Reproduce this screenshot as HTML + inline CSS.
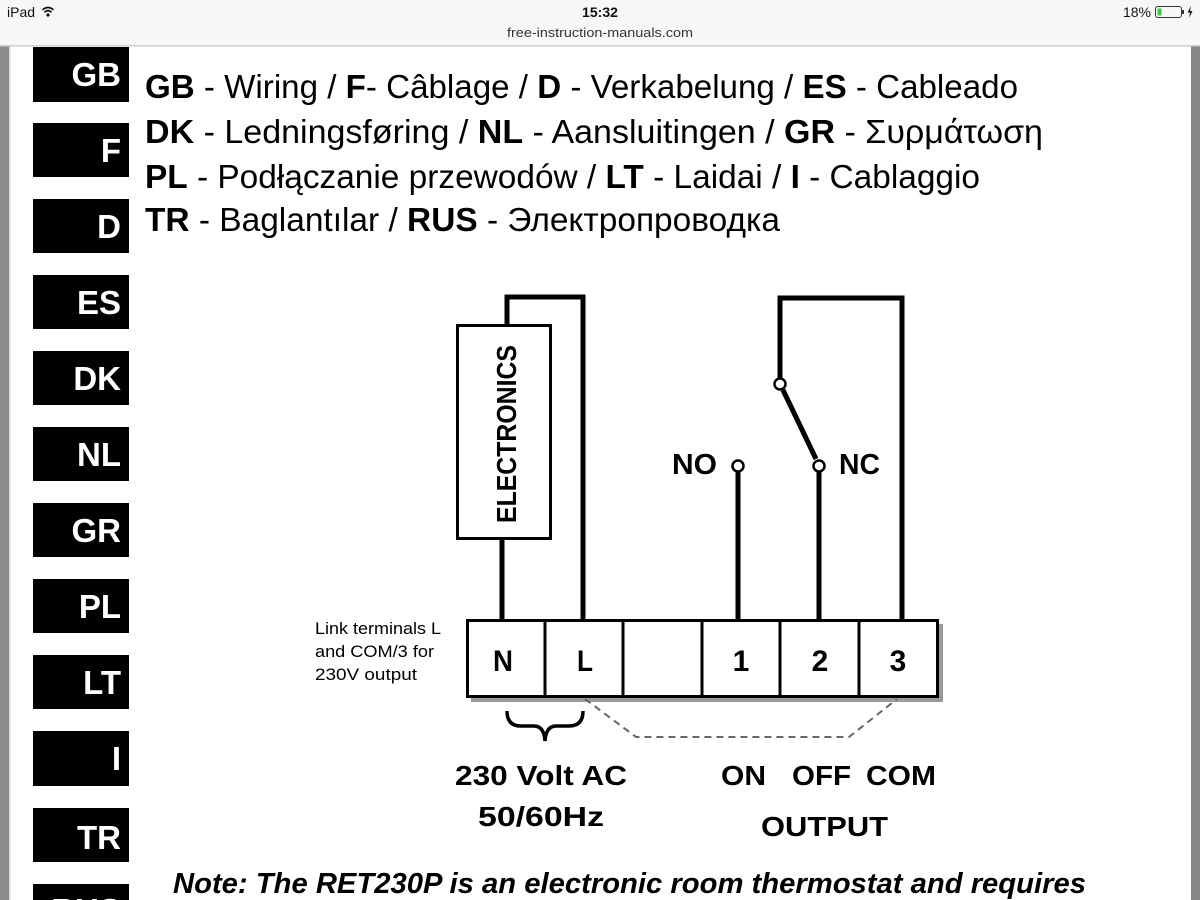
<!DOCTYPE html>
<html>
<head>
<meta charset="utf-8">
<style>
html,body{margin:0;padding:0;width:1200px;height:900px;overflow:hidden;background:#fff;}
svg{display:block;}
text{font-family:"Liberation Sans","DejaVu Sans",sans-serif;}
</style>
</head>
<body>
<svg width="1200" height="900" viewBox="0 0 1200 900" xmlns="http://www.w3.org/2000/svg">
  <!-- page background -->
  <rect x="0" y="0" width="1200" height="900" fill="#ffffff"/>
  <rect x="0" y="46" width="9" height="854" fill="#8b8b8b"/>
  <rect x="9" y="46" width="1.5" height="854" fill="#d8d8d8"/>
  <rect x="1191" y="46" width="9" height="854" fill="#868686"/>

  <!-- status bar -->
  <rect x="0" y="0" width="1200" height="46" fill="#f7f7f7"/>
  <rect x="0" y="45" width="1200" height="1.5" fill="#cfcfcf"/>
  <text x="7" y="17" font-size="14" fill="#111">iPad</text>
  <!-- wifi -->
  <g fill="none" stroke="#111" stroke-width="1.6">
    <path d="M42.5,10 Q48,5 53.5,10"/>
    <path d="M44.5,12.3 Q48,9 51.5,12.3"/>
  </g>
  <circle cx="48" cy="15" r="1.6" fill="#111"/>
  <text x="600" y="17" font-size="14" text-anchor="middle" fill="#111" font-weight="bold" textLength="36" lengthAdjust="spacingAndGlyphs">15:32</text>
  <text x="600" y="37" font-size="13" text-anchor="middle" fill="#333" textLength="186" lengthAdjust="spacingAndGlyphs">free-instruction-manuals.com</text>
  <text x="1151" y="17" font-size="14" text-anchor="end" fill="#111">18%</text>
  <rect x="1155.5" y="6.5" width="26" height="11" rx="2.5" fill="none" stroke="#333" stroke-width="1"/>
  <rect x="1157.5" y="8.5" width="4" height="7" fill="#3cc94a"/>
  <rect x="1182" y="10" width="2" height="4" fill="#333"/>
  <path d="M1191,6 L1187.5,12.5 L1190,12.5 L1189,18 L1192.5,11 L1190,11 Z" fill="#111"/>

  <!-- language tabs -->
  <g fill="#000">
    <rect x="33" y="47" width="96" height="55"/>
    <rect x="33" y="123" width="96" height="54"/>
    <rect x="33" y="199" width="96" height="54"/>
    <rect x="33" y="275" width="96" height="54"/>
    <rect x="33" y="351" width="96" height="54"/>
    <rect x="33" y="427" width="96" height="54"/>
    <rect x="33" y="503" width="96" height="54"/>
    <rect x="33" y="579" width="96" height="54"/>
    <rect x="33" y="655" width="96" height="54"/>
    <rect x="33" y="731" width="96" height="55"/>
    <rect x="33" y="808" width="96" height="54"/>
    <rect x="33" y="884" width="96" height="30"/>
  </g>
  <g fill="#fff" font-weight="bold" font-size="33" text-anchor="end">
    <text x="121" y="86">GB</text>
    <text x="121" y="162">F</text>
    <text x="121" y="238">D</text>
    <text x="121" y="314">ES</text>
    <text x="121" y="390">DK</text>
    <text x="121" y="466">NL</text>
    <text x="121" y="542">GR</text>
    <text x="121" y="618">PL</text>
    <text x="121" y="694">LT</text>
    <text x="121" y="770">I</text>
    <text x="121" y="849">TR</text>
    <text x="121" y="922">RUS</text>
  </g>

  <!-- header lines -->
  <g font-size="33" fill="#000">
    <text x="145" y="98" textLength="873" lengthAdjust="spacingAndGlyphs"><tspan font-weight="bold">GB</tspan> - Wiring / <tspan font-weight="bold">F</tspan>- Câblage / <tspan font-weight="bold">D</tspan> - Verkabelung / <tspan font-weight="bold">ES</tspan> - Cableado</text>
    <text x="145" y="143" textLength="898" lengthAdjust="spacingAndGlyphs"><tspan font-weight="bold">DK</tspan> - Ledningsføring / <tspan font-weight="bold">NL</tspan> - Aansluitingen / <tspan font-weight="bold">GR</tspan> - Συρμάτωση</text>
    <text x="145" y="188" textLength="835" lengthAdjust="spacingAndGlyphs"><tspan font-weight="bold">PL</tspan> - Podłączanie przewodów / <tspan font-weight="bold">LT</tspan> - Laidai / <tspan font-weight="bold">I</tspan> - Cablaggio</text>
    <text x="145" y="231" textLength="635" lengthAdjust="spacingAndGlyphs"><tspan font-weight="bold">TR</tspan> - Baglantılar / <tspan font-weight="bold">RUS</tspan> - Электропроводка</text>
  </g>

  <!-- wires -->
  <g fill="none" stroke="#000" stroke-width="5" stroke-linecap="butt" stroke-linejoin="miter">
    <path d="M507,326 L507,297 L583,297 L583,620"/>
    <path d="M502,539 L502,620"/>
    <path d="M780,378 L780,298 L902,298 L902,620"/>
    <path d="M783,390 L816,459"/>
    <path d="M738,472 L738,620"/>
    <path d="M819,472 L819,620"/>
  </g>
  <!-- contacts -->
  <g fill="#fff" stroke="#000" stroke-width="2.5">
    <circle cx="780" cy="384" r="5.5"/>
    <circle cx="738" cy="466" r="5.5"/>
    <circle cx="819" cy="466" r="5.5"/>
  </g>

  <!-- electronics box -->
  <rect x="457.5" y="325.5" width="93" height="213" fill="#fff" stroke="#000" stroke-width="3"/>
  <text transform="translate(516,523) rotate(-90)" font-size="28" font-weight="bold" textLength="178" lengthAdjust="spacingAndGlyphs">ELECTRONICS</text>

  <!-- NO / NC labels -->
  <text x="672" y="474" font-size="29" font-weight="bold" textLength="45" lengthAdjust="spacingAndGlyphs">NO</text>
  <text x="839" y="474" font-size="29" font-weight="bold" textLength="41" lengthAdjust="spacingAndGlyphs">NC</text>

  <!-- terminal block -->
  <rect x="471" y="624" width="472" height="78" fill="#9a9a9a"/>
  <rect x="467.5" y="620.5" width="470" height="76" fill="#fff" stroke="#000" stroke-width="3"/>
  <g stroke="#000" stroke-width="3">
    <line x1="545" y1="620" x2="545" y2="697"/>
    <line x1="623" y1="620" x2="623" y2="697"/>
    <line x1="702" y1="620" x2="702" y2="697"/>
    <line x1="780" y1="620" x2="780" y2="697"/>
    <line x1="859" y1="620" x2="859" y2="697"/>
  </g>
  <g font-size="30" font-weight="bold" text-anchor="middle">
    <text x="503" y="671" textLength="20" lengthAdjust="spacingAndGlyphs">N</text>
    <text x="585" y="671" textLength="16" lengthAdjust="spacingAndGlyphs">L</text>
    <text x="741" y="671">1</text>
    <text x="820" y="671">2</text>
    <text x="898" y="671">3</text>
  </g>

  <!-- link note -->
  <g font-size="17" fill="#000">
    <text x="315" y="634" textLength="126" lengthAdjust="spacingAndGlyphs">Link terminals L</text>
    <text x="315" y="657" textLength="119" lengthAdjust="spacingAndGlyphs">and COM/3 for</text>
    <text x="315" y="680" textLength="102" lengthAdjust="spacingAndGlyphs">230V output</text>
  </g>

  <!-- brace -->
  <path d="M507,711 Q507,726 521,726 L534,726 Q544,726 545,741 Q546,726 556,726 L569,726 Q583,726 583,711" fill="none" stroke="#000" stroke-width="3.5"/>

  <!-- dashed link -->
  <path d="M585,699 L636,737 L849,737 L897,699" fill="none" stroke="#666" stroke-width="2" stroke-dasharray="7,5"/>

  <!-- bottom labels -->
  <g font-size="28" font-weight="bold" fill="#000">
    <text x="455" y="785" textLength="172" lengthAdjust="spacingAndGlyphs">230 Volt AC</text>
    <text x="478" y="826" textLength="126" lengthAdjust="spacingAndGlyphs">50/60Hz</text>
    <text x="721" y="785" textLength="45" lengthAdjust="spacingAndGlyphs">ON</text>
    <text x="792" y="785" textLength="59" lengthAdjust="spacingAndGlyphs">OFF</text>
    <text x="866" y="785" textLength="70" lengthAdjust="spacingAndGlyphs">COM</text>
    <text x="761" y="836" textLength="127" lengthAdjust="spacingAndGlyphs">OUTPUT</text>
  </g>

  <!-- note -->
  <text x="173" y="893" font-size="29" font-weight="bold" font-style="italic" textLength="913" lengthAdjust="spacingAndGlyphs">Note: The RET230P is an electronic room thermostat and requires</text>
</svg>
</body>
</html>
